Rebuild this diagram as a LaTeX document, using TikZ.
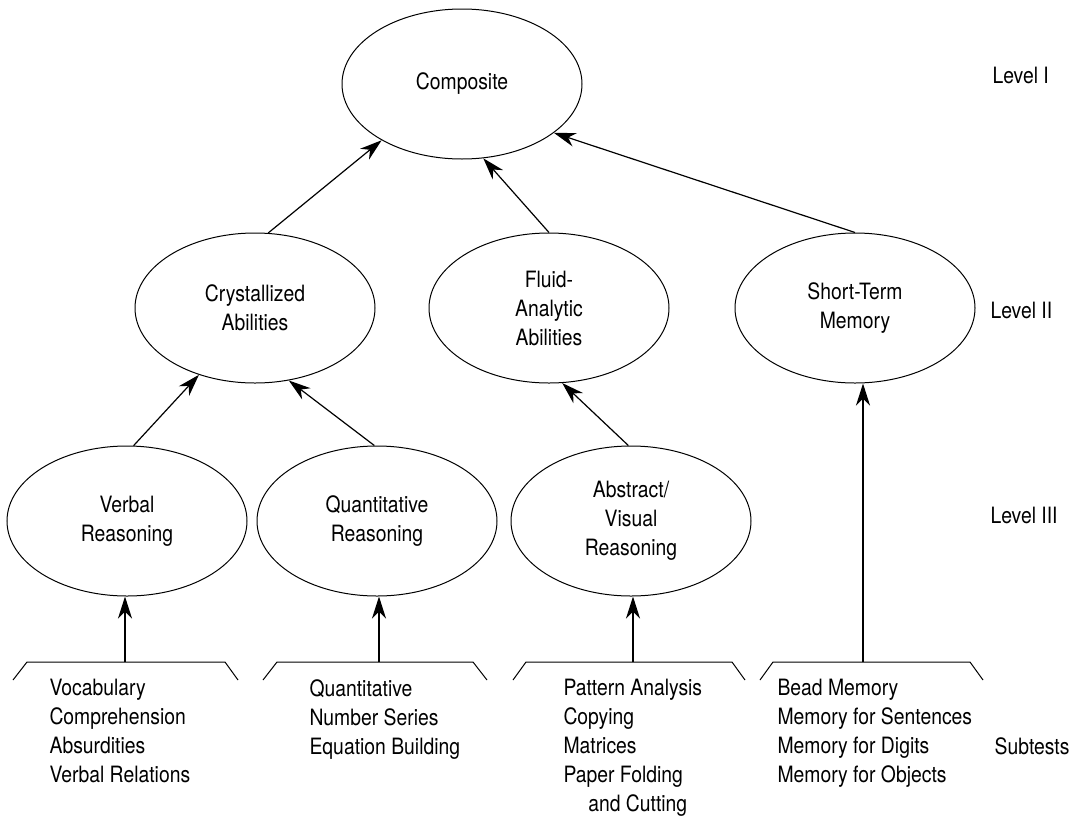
\documentclass[tikz,border=0pt]{standalone}
\usepackage{fontspec}
\setmainfont{TeX Gyre Heros}[FakeStretch=0.86]
\usetikzlibrary{shapes.geometric,arrows.meta}

\begin{document}
\begin{tikzpicture}[x=1pt, y=-1pt, font=\fontsize{22.5}{29}\selectfont, line width=1pt]
        \useasboundingbox (0,0) rectangle (1074,817);

        \begin{scope}[every node/.style={draw, ellipse, minimum width=240pt, minimum height=150pt, inner sep=0, align=center}]
                \node (comp) at (462,84) {Composite};
                \node (cryst) at (255,308) {Crystallized\\Abilities};
                \node (fluid) at (549,308) {Fluid-\\Analytic\\Abilities};
                \node (stm) at (855,308) {Short-Term\\Memory};
                \node (verb) at (127,521) {Verbal\\Reasoning};
                \node (quant) at (377,521) {Quantitative\\Reasoning};
                \node (abst) at (631,521) {Abstract/\\Visual\\Reasoning};
        \end{scope}

        \begin{scope}[every node/.style={inner sep=0}]
                \node [anchor=west] (lev1) at (992,75) {Level I};
                \node [anchor=west] (lev2) at (990,310) {Level II};
                \node [anchor=west] (lev3) at (990,515) {Level III};
                \node [anchor=north west, align=left] (verbtests) at (49,679) {Vocabulary\\Comprehension\\Absurdities\\Verbal Relations};
                \node [anchor=north west, align=left] (quanttests) at (309,679) {Quantitative\\Number Series\\Equation Building};
                \node [anchor=north west, align=left] (absttests) at (563,679) {Pattern Analysis\\Copying\\Matrices\\Paper Folding\\\hspace*{1.1em}and Cutting};
                \node [anchor=north west, align=left] (stmtests) at (777,679) {Bead Memory\\Memory for Sentences\\Memory for Digits\\Memory for Objects};
                \node [anchor=base east] (subt) at (1070,754) {Subtests};
        \end{scope}

        % brackets over the subtests
        \coordinate (b1) at (125,662);
        \coordinate (b2) at (379,662);
        \coordinate (b3) at (633,662);
        \coordinate (b4) at (863,662);
        \draw (13,680) -- (27,662) -- (225,662) -- (238,680);
        \draw (263,680) -- (277,662) -- (473,662) -- (487,680);
        \draw (513,680) -- (526,662) -- (732,662) -- (745,680);
        \draw (760,680) -- (773,662) -- (970,662) -- (983,680);

        \begin{scope}[every path/.style={-{Stealth[length=22pt, width=14pt, inset=7pt]}, line width=1.2pt}]
                \path (cryst.80) edge (comp.215);
                \path (fluid.90) edge (comp.286);
                \path (stm.90) edge (comp.332);
                \path (verb.85) edge (cryst.230);
                \path (quant.92) edge (cryst.295);
                \path (abst.92) edge (fluid.280);
                \path (b1) edge (b1 |- verb.south);
                \path (b2) edge (b2 |- quant.south);
                \path (b3) edge (b3 |- abst.south);
                \path (b4) edge (b4 |- stm.south);
        \end{scope}
\end{tikzpicture}
\end{document}
